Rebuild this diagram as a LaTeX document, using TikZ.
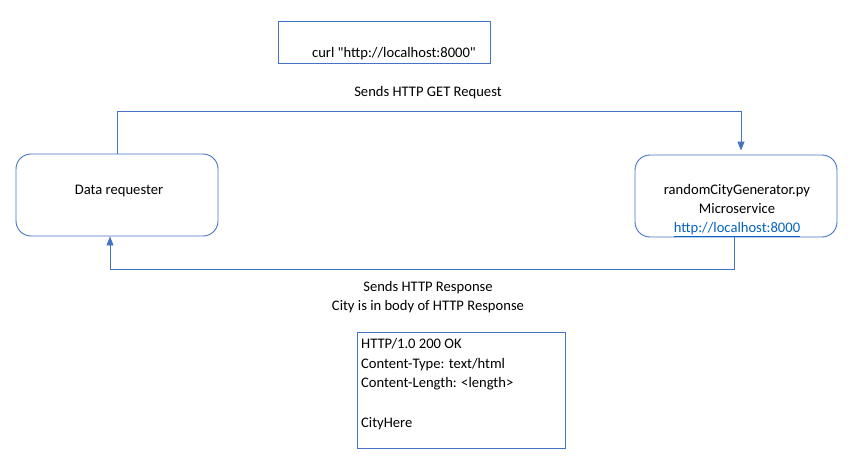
\documentclass[tikz,border=0pt]{standalone}
\usepackage{fontspec}
\setmainfont{Carlito}[Ligatures=TeXOff]
\usetikzlibrary{arrows.meta, positioning}
\definecolor{boxblue}{HTML}{4472C4}
\definecolor{linkblue}{HTML}{0563C1}

\begin{document}
\begin{tikzpicture}[x=1pt, y=-1pt,
  every node/.style={font=\fontsize{14.6}{18.8}\selectfont, inner sep=0pt},
  plainbox/.style={draw=boxblue, line width=0.9pt},
  roundbox/.style={plainbox, rounded corners=15pt, minimum width=202pt, minimum height=82pt},
  flow/.style={draw=boxblue, line width=0.9pt, -{Triangle[length=9pt, width=7pt]}}]
\useasboundingbox (0,0) rectangle (864,471);

% Curl command
\node[plainbox, minimum width=212pt, minimum height=42pt] (curl) at (384,42) {};
\node (curltext) at (394,54) {curl "http://localhost:8000"};

% Data requester
\node[roundbox] (req) at (117,195) {};
\node (reqtext) at (119,190.5) {Data requester};

% Microservice
\node[roundbox] (gen) at (736,196) {};
\node[align=center] (gentext) at (737,210.5) {randomCityGenerator.py\\Microservice\\
  \textcolor{linkblue}{\underline{http://localhost:8000}}};

% HTTP GET request
\node (getlabel) at (428,93) {Sends HTTP GET Request};
\coordinate (getturn) at (741,111);
\draw[flow] (req.north) |- (getturn) -- ([yshift=4pt]gen.north -| getturn);

% HTTP response
\coordinate (respturn) at (734,269);
\draw[flow] ([xshift=-2pt]gen.south) -- (respturn) -| ([xshift=-7pt]req.south);
\node[align=center] (resplabel) at (428,297) {Sends HTTP Response\\City is in body of HTTP Response};

% Response body
\node[plainbox, minimum width=208pt, minimum height=116pt] (body) at (461,390) {};
\node[align=left, anchor=west, font=\fontsize{14.6}{19.6}\selectfont] (bodytext) at (361,384)
  {HTTP/1.0 200 OK\\Content-Type: text/html\\Content-Length: <length>\\[\baselineskip]CityHere};
\end{tikzpicture}
\end{document}
